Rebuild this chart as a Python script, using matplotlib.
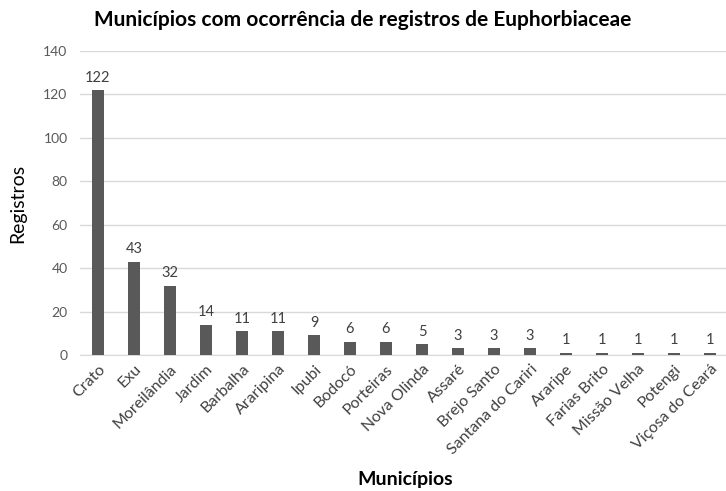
import matplotlib
matplotlib.use("Agg")
import matplotlib.pyplot as plt

plt.rcParams['font.family'] = ['Lato', 'DejaVu Sans']

municipios = ["Crato", "Exu", "Moreilândia", "Jardim", "Barbalha", "Araripina", "Ipubi",
              "Bodocó", "Porteiras", "Nova Olinda", "Assaré", "Brejo Santo",
              "Santana do Cariri", "Araripe", "Farias Brito", "Missão Velha",
              "Potengi", "Viçosa do Ceará"]
registros = [122, 43, 32, 14, 11, 11, 9, 6, 6, 5, 3, 3, 3, 1, 1, 1, 1, 1]
yticks = [0, 20, 40, 60, 80, 100, 120, 140]

W, H = 726, 491
fig = plt.figure(figsize=(W/100, H/100), dpi=100)
ax = fig.add_axes([80/W, 1-355/H, (728-80)/W, (355-51)/H])

x = list(range(len(municipios)))
ax.bar(x, registros, width=0.31, color="#595959", zorder=3)
ax.set_xlim(-0.5, len(municipios)-0.5)
ax.set_ylim(0, 140)
ax.set_yticks(yticks)
ax.grid(axis='y', color="#d9d9d9", linewidth=1, zorder=0)
for s in ["top", "right", "left"]:
    ax.spines[s].set_visible(False)
ax.spines["bottom"].set_color("#d9d9d9")
ax.tick_params(axis='both', length=0, colors="#595959", labelsize=10)
ax.tick_params(axis='y', pad=9)
ax.tick_params(axis='x', pad=5)
ax.set_xticks(x)
ax.set_xticklabels(municipios, rotation=45, ha='right', rotation_mode='anchor',
                   fontsize=11.5, color="#404040")

for xi, v in zip(x, registros):
    ax.annotate(str(v), (xi, v), xytext=(0, 4), textcoords='offset points',
                ha='center', va='bottom', fontsize=10.5, color="#404040")

fig.text(0.5, 1-20/H, "Municípios com ocorrência de registros de Euphorbiaceae",
         ha='center', va='center', fontsize=15, fontweight='bold', color="black")
fig.text(18/W, 1-203/H, "Registros", rotation=90, ha='center', va='center', fontsize=14, color="black")
fig.text(405/W, 1-480/H, "Municípios", ha='center', va='center', fontsize=14, fontweight='bold', color="black")

fig.savefig("out.png", dpi=100, facecolor="white")
